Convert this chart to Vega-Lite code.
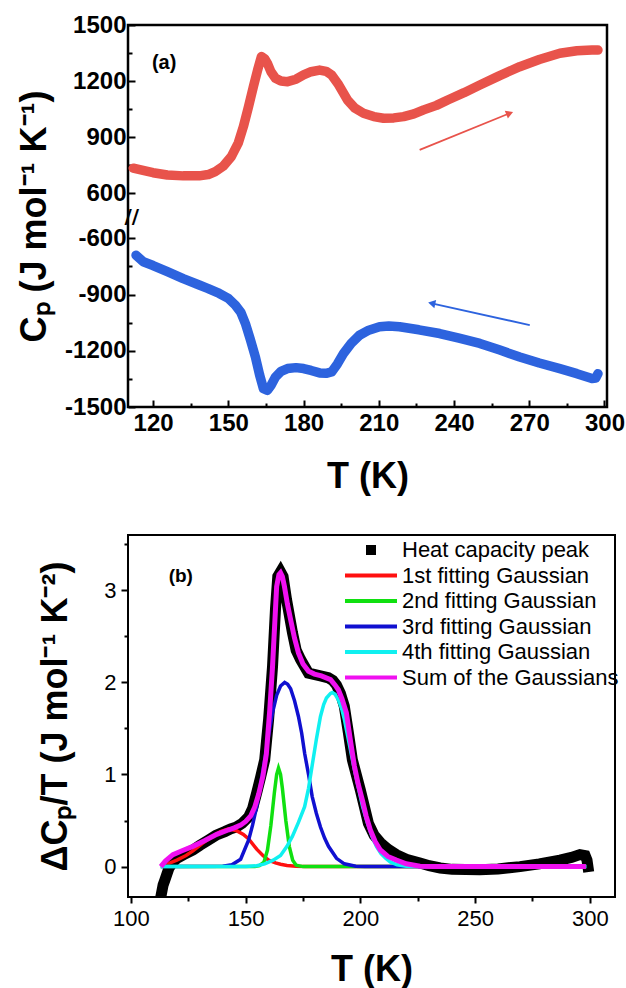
{
  "$schema": "https://vega.github.io/schema/vega-lite/v6.json",
  "autosize": "none",
  "padding": {"left": 128, "top": 25, "right": 498, "bottom": 963},
  "background": "white",
  "spacing": 128,
  "bounds": "flush",
  "resolve": {"scale": {"color": "independent"}, "legend": {"color": "independent"}},
  "config": {
    "font": "Liberation Sans",
    "view": {"stroke": "black", "strokeWidth": 2.5},
    "axis": {"grid": false, "domain": false, "tickColor": "black", "labelColor": "black", "titleColor": "black", "tickWidth": 2, "labelFont": "Liberation Sans", "titleFont": "Liberation Sans", "labelFlush": false, "labelOverlap": false, "tickCount": 100},
    "legend": {"labelFont": "Liberation Sans", "labelColor": "black", "labelLimit": 0}
  },
  "datasets": {
    "a": [
      {"s":"heat","T":112.1,"C":734},{"s":"heat","T":116,"C":722},{"s":"heat","T":120,"C":710},{"s":"heat","T":125.7,"C":698},{"s":"heat","T":132,"C":693},{"s":"heat","T":138.4,"C":693},{"s":"heat","T":142,"C":700},{"s":"heat","T":144.8,"C":716},{"s":"heat","T":148,"C":745},{"s":"heat","T":151.2,"C":796},{"s":"heat","T":154,"C":870},{"s":"heat","T":156,"C":956},{"s":"heat","T":158,"C":1060},{"s":"heat","T":160,"C":1170},{"s":"heat","T":161.7,"C":1260},{"s":"heat","T":163.2,"C":1331},{"s":"heat","T":164.5,"C":1320},{"s":"heat","T":165.6,"C":1295},{"s":"heat","T":167,"C":1250},{"s":"heat","T":168.8,"C":1215},{"s":"heat","T":171,"C":1200},{"s":"heat","T":173.6,"C":1197},{"s":"heat","T":177,"C":1210},{"s":"heat","T":180,"C":1233},{"s":"heat","T":183,"C":1250},{"s":"heat","T":186.4,"C":1259},{"s":"heat","T":189,"C":1252},{"s":"heat","T":191.2,"C":1233},{"s":"heat","T":194,"C":1180},{"s":"heat","T":197.5,"C":1099},{"s":"heat","T":200.5,"C":1055},{"s":"heat","T":203.9,"C":1028},{"s":"heat","T":208,"C":1010},{"s":"heat","T":211.9,"C":1001},{"s":"heat","T":216,"C":1003},{"s":"heat","T":219.9,"C":1010},{"s":"heat","T":224,"C":1025},{"s":"heat","T":227.9,"C":1046},{"s":"heat","T":233,"C":1070},{"s":"heat","T":237.5,"C":1099},{"s":"heat","T":244,"C":1138},{"s":"heat","T":250.3,"C":1179},{"s":"heat","T":258,"C":1228},{"s":"heat","T":266.2,"C":1277},{"s":"heat","T":274,"C":1315},{"s":"heat","T":282.2,"C":1349},{"s":"heat","T":289,"C":1362},{"s":"heat","T":295,"C":1366},{"s":"heat","T":297.4,"C":1366},
      {"s":"cool","T":113.2,"C":-690},{"s":"cool","T":116.1,"C":-725},{"s":"cool","T":120,"C":-745},{"s":"cool","T":125.7,"C":-778},{"s":"cool","T":132,"C":-815},{"s":"cool","T":138.4,"C":-849},{"s":"cool","T":142,"C":-868},{"s":"cool","T":146.4,"C":-894},{"s":"cool","T":150,"C":-920},{"s":"cool","T":152.8,"C":-956},{"s":"cool","T":155,"C":-995},{"s":"cool","T":156.8,"C":-1054},{"s":"cool","T":158.8,"C":-1140},{"s":"cool","T":160.8,"C":-1233},{"s":"cool","T":162.5,"C":-1330},{"s":"cool","T":164,"C":-1402},{"s":"cool","T":165.6,"C":-1411},{"s":"cool","T":167,"C":-1385},{"s":"cool","T":168.8,"C":-1340},{"s":"cool","T":171,"C":-1310},{"s":"cool","T":173.6,"C":-1295},{"s":"cool","T":177,"C":-1290},{"s":"cool","T":180,"C":-1295},{"s":"cool","T":183,"C":-1305},{"s":"cool","T":186.4,"C":-1318},{"s":"cool","T":189,"C":-1320},{"s":"cool","T":191.2,"C":-1313},{"s":"cool","T":193.5,"C":-1270},{"s":"cool","T":195.9,"C":-1215},{"s":"cool","T":199,"C":-1160},{"s":"cool","T":202.3,"C":-1117},{"s":"cool","T":206,"C":-1090},{"s":"cool","T":210.3,"C":-1072},{"s":"cool","T":214,"C":-1068},{"s":"cool","T":218.3,"C":-1072},{"s":"cool","T":226,"C":-1088},{"s":"cool","T":234.3,"C":-1108},{"s":"cool","T":242,"C":-1133},{"s":"cool","T":250.3,"C":-1161},{"s":"cool","T":258,"C":-1195},{"s":"cool","T":266.2,"C":-1233},{"s":"cool","T":274,"C":-1265},{"s":"cool","T":282.2,"C":-1295},{"s":"cool","T":289,"C":-1322},{"s":"cool","T":295,"C":-1348},{"s":"cool","T":296.5,"C":-1345},{"s":"cool","T":297.4,"C":-1322}
    ],
    "arrows": [
      {"s":"heat","T":226.3,"C":832,"T2":262.2,"C2":1028},
      {"s":"cool","T":270.2,"C":-1063,"T2":231.1,"C2":-947}
    ],
    "alab": [
      {"T":124.4,"C":1297,"t":"(a)"}
    ],
    "brk": [
      {"T":111.5,"C":0,"t":"//"}
    ],
    "b": [
      {"s":"Heat capacity peak","T":112.3,"v":-0.6},{"s":"Heat capacity peak","T":113,"v":-0.33},{"s":"Heat capacity peak","T":114,"v":-0.2},{"s":"Heat capacity peak","T":114.8,"v":-0.145},{"s":"Heat capacity peak","T":116.5,"v":-0.02},{"s":"Heat capacity peak","T":118,"v":0.04},{"s":"Heat capacity peak","T":120,"v":0.09},{"s":"Heat capacity peak","T":123,"v":0.13},{"s":"Heat capacity peak","T":127,"v":0.18},{"s":"Heat capacity peak","T":130,"v":0.23},{"s":"Heat capacity peak","T":133.9,"v":0.29},{"s":"Heat capacity peak","T":137,"v":0.34},{"s":"Heat capacity peak","T":140.9,"v":0.38},{"s":"Heat capacity peak","T":143.5,"v":0.41},{"s":"Heat capacity peak","T":146,"v":0.43},{"s":"Heat capacity peak","T":148.5,"v":0.47},{"s":"Heat capacity peak","T":151.3,"v":0.54},{"s":"Heat capacity peak","T":153,"v":0.63},{"s":"Heat capacity peak","T":154.8,"v":0.8},{"s":"Heat capacity peak","T":156.5,"v":0.97},{"s":"Heat capacity peak","T":158.3,"v":1.16},{"s":"Heat capacity peak","T":160,"v":1.6},{"s":"Heat capacity peak","T":161.7,"v":2.17},{"s":"Heat capacity peak","T":163,"v":2.8},{"s":"Heat capacity peak","T":164,"v":3.15},{"s":"Heat capacity peak","T":165.2,"v":3.2},{"s":"Heat capacity peak","T":166.3,"v":3.15},{"s":"Heat capacity peak","T":167.8,"v":2.9},{"s":"Heat capacity peak","T":170.4,"v":2.54},{"s":"Heat capacity peak","T":172,"v":2.35},{"s":"Heat capacity peak","T":173.9,"v":2.25},{"s":"Heat capacity peak","T":177.4,"v":2.1},{"s":"Heat capacity peak","T":182.6,"v":2.07},{"s":"Heat capacity peak","T":186,"v":2.05},{"s":"Heat capacity peak","T":188,"v":2.02},{"s":"Heat capacity peak","T":189.6,"v":1.97},{"s":"Heat capacity peak","T":191.3,"v":1.88},{"s":"Heat capacity peak","T":193,"v":1.74},{"s":"Heat capacity peak","T":194.8,"v":1.45},{"s":"Heat capacity peak","T":196.5,"v":1.16},{"s":"Heat capacity peak","T":200,"v":0.83},{"s":"Heat capacity peak","T":203.5,"v":0.47},{"s":"Heat capacity peak","T":206,"v":0.34},{"s":"Heat capacity peak","T":208.7,"v":0.26},{"s":"Heat capacity peak","T":212,"v":0.19},{"s":"Heat capacity peak","T":215.7,"v":0.13},{"s":"Heat capacity peak","T":220,"v":0.08},{"s":"Heat capacity peak","T":226,"v":0.04},{"s":"Heat capacity peak","T":230,"v":0.01},{"s":"Heat capacity peak","T":234.8,"v":-0.015},{"s":"Heat capacity peak","T":240,"v":-0.03},{"s":"Heat capacity peak","T":252,"v":-0.035},{"s":"Heat capacity peak","T":260,"v":-0.025},{"s":"Heat capacity peak","T":269.6,"v":0},{"s":"Heat capacity peak","T":278,"v":0.03},{"s":"Heat capacity peak","T":287,"v":0.07},{"s":"Heat capacity peak","T":292,"v":0.1},{"s":"Heat capacity peak","T":295.7,"v":0.13},{"s":"Heat capacity peak","T":298,"v":0.12},{"s":"Heat capacity peak","T":298.8,"v":0.07},{"s":"Heat capacity peak","T":299.2,"v":0.0},
      {"s":"1st fitting Gaussian","T":113,"v":0.01},{"s":"1st fitting Gaussian","T":116,"v":0.03},{"s":"1st fitting Gaussian","T":120,"v":0.07},{"s":"1st fitting Gaussian","T":124,"v":0.12},{"s":"1st fitting Gaussian","T":127,"v":0.17},{"s":"1st fitting Gaussian","T":131,"v":0.25},{"s":"1st fitting Gaussian","T":135,"v":0.32},{"s":"1st fitting Gaussian","T":139,"v":0.38},{"s":"1st fitting Gaussian","T":142.6,"v":0.41},{"s":"1st fitting Gaussian","T":146,"v":0.39},{"s":"1st fitting Gaussian","T":149,"v":0.35},{"s":"1st fitting Gaussian","T":151.3,"v":0.3},{"s":"1st fitting Gaussian","T":154.8,"v":0.19},{"s":"1st fitting Gaussian","T":157.5,"v":0.12},{"s":"1st fitting Gaussian","T":160,"v":0.07},{"s":"1st fitting Gaussian","T":163,"v":0.04},{"s":"1st fitting Gaussian","T":165.2,"v":0.025},{"s":"1st fitting Gaussian","T":168,"v":0.012},{"s":"1st fitting Gaussian","T":172,"v":0.004},{"s":"1st fitting Gaussian","T":176,"v":0},{"s":"1st fitting Gaussian","T":298.5,"v":0},
      {"s":"2nd fitting Gaussian","T":113,"v":0},{"s":"2nd fitting Gaussian","T":154,"v":0},{"s":"2nd fitting Gaussian","T":156,"v":0.01},{"s":"2nd fitting Gaussian","T":158,"v":0.05},{"s":"2nd fitting Gaussian","T":159.5,"v":0.18},{"s":"2nd fitting Gaussian","T":161,"v":0.45},{"s":"2nd fitting Gaussian","T":162.5,"v":0.8},{"s":"2nd fitting Gaussian","T":163.5,"v":1.0},{"s":"2nd fitting Gaussian","T":164.3,"v":1.07},{"s":"2nd fitting Gaussian","T":165.2,"v":1.0},{"s":"2nd fitting Gaussian","T":166,"v":0.85},{"s":"2nd fitting Gaussian","T":167.5,"v":0.5},{"s":"2nd fitting Gaussian","T":169,"v":0.22},{"s":"2nd fitting Gaussian","T":170.5,"v":0.07},{"s":"2nd fitting Gaussian","T":172,"v":0.015},{"s":"2nd fitting Gaussian","T":175,"v":0},{"s":"2nd fitting Gaussian","T":298.5,"v":0},
      {"s":"3rd fitting Gaussian","T":113,"v":0},{"s":"3rd fitting Gaussian","T":140,"v":0.005},{"s":"3rd fitting Gaussian","T":144,"v":0.02},{"s":"3rd fitting Gaussian","T":147.8,"v":0.08},{"s":"3rd fitting Gaussian","T":151.3,"v":0.29},{"s":"3rd fitting Gaussian","T":153,"v":0.45},{"s":"3rd fitting Gaussian","T":154.8,"v":0.65},{"s":"3rd fitting Gaussian","T":156.5,"v":0.9},{"s":"3rd fitting Gaussian","T":158.3,"v":1.16},{"s":"3rd fitting Gaussian","T":160,"v":1.42},{"s":"3rd fitting Gaussian","T":161.7,"v":1.67},{"s":"3rd fitting Gaussian","T":163.5,"v":1.86},{"s":"3rd fitting Gaussian","T":165.2,"v":1.96},{"s":"3rd fitting Gaussian","T":167,"v":2.0},{"s":"3rd fitting Gaussian","T":168.3,"v":1.98},{"s":"3rd fitting Gaussian","T":169.6,"v":1.93},{"s":"3rd fitting Gaussian","T":171.3,"v":1.8},{"s":"3rd fitting Gaussian","T":173,"v":1.63},{"s":"3rd fitting Gaussian","T":174.4,"v":1.45},{"s":"3rd fitting Gaussian","T":175.7,"v":1.23},{"s":"3rd fitting Gaussian","T":177.4,"v":1.0},{"s":"3rd fitting Gaussian","T":179,"v":0.76},{"s":"3rd fitting Gaussian","T":180.8,"v":0.58},{"s":"3rd fitting Gaussian","T":182.6,"v":0.43},{"s":"3rd fitting Gaussian","T":184.4,"v":0.31},{"s":"3rd fitting Gaussian","T":186.1,"v":0.22},{"s":"3rd fitting Gaussian","T":189.6,"v":0.09},{"s":"3rd fitting Gaussian","T":193,"v":0.03},{"s":"3rd fitting Gaussian","T":198,"v":0.005},{"s":"3rd fitting Gaussian","T":202,"v":0},{"s":"3rd fitting Gaussian","T":298.5,"v":0},
      {"s":"4th fitting Gaussian","T":113,"v":0},{"s":"4th fitting Gaussian","T":150,"v":0},{"s":"4th fitting Gaussian","T":154.8,"v":0.01},{"s":"4th fitting Gaussian","T":158.3,"v":0.03},{"s":"4th fitting Gaussian","T":162,"v":0.07},{"s":"4th fitting Gaussian","T":165.2,"v":0.12},{"s":"4th fitting Gaussian","T":168,"v":0.22},{"s":"4th fitting Gaussian","T":170.4,"v":0.33},{"s":"4th fitting Gaussian","T":173,"v":0.48},{"s":"4th fitting Gaussian","T":175.7,"v":0.65},{"s":"4th fitting Gaussian","T":177.4,"v":0.85},{"s":"4th fitting Gaussian","T":179,"v":1.1},{"s":"4th fitting Gaussian","T":180.8,"v":1.38},{"s":"4th fitting Gaussian","T":182.6,"v":1.63},{"s":"4th fitting Gaussian","T":184,"v":1.76},{"s":"4th fitting Gaussian","T":185.2,"v":1.83},{"s":"4th fitting Gaussian","T":187,"v":1.88},{"s":"4th fitting Gaussian","T":187.8,"v":1.89},{"s":"4th fitting Gaussian","T":189,"v":1.87},{"s":"4th fitting Gaussian","T":190.4,"v":1.81},{"s":"4th fitting Gaussian","T":192,"v":1.7},{"s":"4th fitting Gaussian","T":193,"v":1.6},{"s":"4th fitting Gaussian","T":195,"v":1.35},{"s":"4th fitting Gaussian","T":197,"v":1.1},{"s":"4th fitting Gaussian","T":199,"v":0.87},{"s":"4th fitting Gaussian","T":201,"v":0.65},{"s":"4th fitting Gaussian","T":203,"v":0.48},{"s":"4th fitting Gaussian","T":205,"v":0.33},{"s":"4th fitting Gaussian","T":207,"v":0.22},{"s":"4th fitting Gaussian","T":209,"v":0.14},{"s":"4th fitting Gaussian","T":211,"v":0.09},{"s":"4th fitting Gaussian","T":213,"v":0.05},{"s":"4th fitting Gaussian","T":216,"v":0.02},{"s":"4th fitting Gaussian","T":220,"v":0.005},{"s":"4th fitting Gaussian","T":225,"v":0},{"s":"4th fitting Gaussian","T":298.5,"v":0},
      {"s":"Sum of the Gaussians","T":113,"v":0.0},{"s":"Sum of the Gaussians","T":115,"v":0.06},{"s":"Sum of the Gaussians","T":118.3,"v":0.13},{"s":"Sum of the Gaussians","T":122,"v":0.17},{"s":"Sum of the Gaussians","T":127,"v":0.22},{"s":"Sum of the Gaussians","T":132,"v":0.28},{"s":"Sum of the Gaussians","T":137.4,"v":0.35},{"s":"Sum of the Gaussians","T":142.6,"v":0.4},{"s":"Sum of the Gaussians","T":145,"v":0.42},{"s":"Sum of the Gaussians","T":147.8,"v":0.45},{"s":"Sum of the Gaussians","T":150,"v":0.49},{"s":"Sum of the Gaussians","T":152.2,"v":0.55},{"s":"Sum of the Gaussians","T":154,"v":0.65},{"s":"Sum of the Gaussians","T":155.7,"v":0.79},{"s":"Sum of the Gaussians","T":157.5,"v":0.98},{"s":"Sum of the Gaussians","T":159,"v":1.22},{"s":"Sum of the Gaussians","T":160.5,"v":1.7},{"s":"Sum of the Gaussians","T":161.7,"v":2.17},{"s":"Sum of the Gaussians","T":163.5,"v":3.04},{"s":"Sum of the Gaussians","T":164.5,"v":3.17},{"s":"Sum of the Gaussians","T":165.2,"v":3.19},{"s":"Sum of the Gaussians","T":166,"v":3.15},{"s":"Sum of the Gaussians","T":166.9,"v":3.04},{"s":"Sum of the Gaussians","T":168.2,"v":2.85},{"s":"Sum of the Gaussians","T":169.6,"v":2.68},{"s":"Sum of the Gaussians","T":171.3,"v":2.48},{"s":"Sum of the Gaussians","T":173,"v":2.32},{"s":"Sum of the Gaussians","T":175,"v":2.2},{"s":"Sum of the Gaussians","T":177.4,"v":2.12},{"s":"Sum of the Gaussians","T":180,"v":2.09},{"s":"Sum of the Gaussians","T":183,"v":2.07},{"s":"Sum of the Gaussians","T":187,"v":2.03},{"s":"Sum of the Gaussians","T":189,"v":1.97},{"s":"Sum of the Gaussians","T":190.4,"v":1.92},{"s":"Sum of the Gaussians","T":192,"v":1.82},{"s":"Sum of the Gaussians","T":193.9,"v":1.67},{"s":"Sum of the Gaussians","T":195.6,"v":1.38},{"s":"Sum of the Gaussians","T":197.4,"v":1.09},{"s":"Sum of the Gaussians","T":199,"v":0.9},{"s":"Sum of the Gaussians","T":200.9,"v":0.72},{"s":"Sum of the Gaussians","T":202.5,"v":0.55},{"s":"Sum of the Gaussians","T":204.3,"v":0.4},{"s":"Sum of the Gaussians","T":206.5,"v":0.27},{"s":"Sum of the Gaussians","T":208.7,"v":0.18},{"s":"Sum of the Gaussians","T":212,"v":0.11},{"s":"Sum of the Gaussians","T":215.7,"v":0.07},{"s":"Sum of the Gaussians","T":220,"v":0.03},{"s":"Sum of the Gaussians","T":226,"v":0.005},{"s":"Sum of the Gaussians","T":232,"v":0},{"s":"Sum of the Gaussians","T":298.3,"v":0}
    ],
    "blab": [
      {"T":121.7,"v":3.15,"t":"(b)"}
    ]
  },
  "vconcat": [
    {
      "width": 479,
      "height": 382,
      "layer": [
        {
          "data": {"name": "a"},
          "mark": {"type": "line", "strokeWidth": 9.5, "strokeCap": "round", "strokeJoin": "round"},
          "encoding": {
            "x": {"field": "T", "type": "quantitative",
              "scale": {"domain": [110, 301], "nice": false, "zero": false},
              "axis": {"values": [120,135,150,165,180,195,210,225,240,255,270,285,300],
                "labelExpr": "datum.value % 30 === 0 ? datum.label : ''",
                "tickSize": {"condition": {"test": "datum.value % 30 === 0", "value": -7}, "value": -4},
                "labelFontSize": 24, "labelFontWeight": "bold", "labelPadding": 11,
                "title": "T (K)", "titleFontSize": 36, "titleFontWeight": "bold",
                "titleBaseline": "alphabetic", "titleY": 80}},
            "y": {"field": "C", "type": "quantitative",
              "scale": {"domain": [-1500, -486, 473, 1500], "range": [382, 192, 192, 0], "nice": false, "zero": false},
              "axis": {"values": [-1500,-1350,-1200,-1050,-900,-750,-600,600,750,900,1050,1200,1350,1500],
                "labelExpr": "datum.value % 300 === 0 ? '' + datum.value : ''",
                "tickSize": {"condition": {"test": "datum.value % 300 === 0", "value": -7}, "value": -4},
                "labelFontSize": 24, "labelFontWeight": "bold", "labelPadding": 9,
                "title": "Cₚ (J mol⁻¹ K⁻¹)", "titleFontSize": 36, "titleFontWeight": "bold",
                "titleBaseline": "alphabetic", "titleX": -83}},
            "color": {"field": "s", "type": "nominal", "scale": {"domain": ["heat", "cool"], "range": ["#e8534b", "#2d63de"]}, "legend": null}
          }
        },
        {
          "data": {"name": "arrows"},
          "mark": {"type": "rule", "strokeWidth": 1.8},
          "encoding": {
            "x": {"field": "T", "type": "quantitative"},
            "y": {"field": "C", "type": "quantitative"},
            "x2": {"field": "T2"},
            "y2": {"field": "C2"},
            "color": {"field": "s", "type": "nominal", "legend": null}
          }
        },
        {
          "data": {"name": "arrows"},
          "transform": [{"filter": "datum.s === 'heat'"}],
          "mark": {"type": "point", "shape": "triangle-right", "angle": -22, "filled": true, "size": 70, "opacity": 1},
          "encoding": {
            "x": {"field": "T2", "type": "quantitative"},
            "y": {"field": "C2", "type": "quantitative"},
            "color": {"field": "s", "type": "nominal", "legend": null}
          }
        },
        {
          "data": {"name": "arrows"},
          "transform": [{"filter": "datum.s === 'cool'"}],
          "mark": {"type": "point", "shape": "triangle-left", "angle": 12.5, "filled": true, "size": 70, "opacity": 1},
          "encoding": {
            "x": {"field": "T2", "type": "quantitative"},
            "y": {"field": "C2", "type": "quantitative"},
            "color": {"field": "s", "type": "nominal", "legend": null}
          }
        },
        {
          "data": {"name": "alab"},
          "mark": {"type": "text", "fontSize": 20, "fontWeight": "bold", "color": "black", "align": "center", "baseline": "middle"},
          "encoding": {
            "x": {"field": "T", "type": "quantitative"},
            "y": {"field": "C", "type": "quantitative"},
            "text": {"field": "t"}
          }
        },
        {
          "data": {"name": "brk"},
          "mark": {"type": "text", "fontSize": 20, "fontWeight": "bold", "color": "black", "align": "center", "baseline": "middle", "font": "DejaVu Sans"},
          "encoding": {
            "x": {"field": "T", "type": "quantitative"},
            "y": {"field": "C", "type": "quantitative"},
            "text": {"field": "t"}
          }
        }
      ]
    },
    {
      "width": 487,
      "height": 362,
      "view": {"stroke": "black", "strokeWidth": 2},
      "layer": [
        {
          "data": {"name": "b"},
          "transform": [{"filter": "datum.s === 'Heat capacity peak'"}],
          "mark": {"type": "line", "strokeWidth": 11, "strokeCap": "square", "strokeJoin": "miter", "clip": true},
          "encoding": {
            "x": {"field": "T", "type": "quantitative",
              "scale": {"domain": [98.7, 311], "nice": false, "zero": false},
              "axis": {"values": [100,125,150,175,200,225,250,275,300],
                "labelExpr": "datum.value % 50 === 0 ? datum.label : ''",
                "tickSize": {"condition": {"test": "datum.value % 50 === 0", "value": 6}, "value": 4},
                "labelFontSize": 22, "labelPadding": 5,
                "title": "T (K)", "titleFontSize": 36, "titleFontWeight": "bold",
                "titleBaseline": "alphabetic", "titleY": 83}},
            "y": {"field": "v", "type": "quantitative",
              "scale": {"domain": [-0.33, 3.6], "nice": false, "zero": false},
              "axis": {"values": [0,0.5,1,1.5,2,2.5,3,3.5],
                "labelExpr": "datum.value % 1 === 0 ? '' + datum.value : ''",
                "tickSize": {"condition": {"test": "datum.value % 1 === 0", "value": 7}, "value": 4},
                "labelFontSize": 22, "labelPadding": 5,
                "title": "ΔCₚ/T (J mol⁻¹ K⁻²)", "titleFontSize": 36, "titleFontWeight": "bold",
                "titleBaseline": "alphabetic", "titleX": -62}},
            "color": {"field": "s", "type": "nominal",
              "scale": {"domain": ["Heat capacity peak", "1st fitting Gaussian", "2nd fitting Gaussian", "3rd fitting Gaussian", "4th fitting Gaussian", "Sum of the Gaussians"],
                "range": ["#000000", "#ff1010", "#10e010", "#1010d0", "#10f0f0", "#f010f0"]},
              "legend": {"title": null, "orient": "none", "legendX": 232, "legendY": 4, "padding": 0,
                "labelFontSize": 22, "rowPadding": 3.5, "symbolSize": 100, "symbolType": "M-5.2,0H5.2",
                "symbolStrokeWidth": 4, "labelOffset": 20, "labelLimit": 0,
                "encode": {"symbols": {"update": {
                  "shape": {"signal": "datum.value === 'Heat capacity peak' ? 'square' : 'M-5.2,0H5.2'"},
                  "fill": {"signal": "datum.value === 'Heat capacity peak' ? '#000000' : 'transparent'"},
                  "strokeWidth": {"signal": "datum.value === 'Heat capacity peak' ? 0 : 4"}
                }}}}
            }
          }
        },
        {
          "data": {"name": "b"},
          "transform": [{"filter": "datum.s !== 'Heat capacity peak' && datum.s !== 'Sum of the Gaussians'"}],
          "mark": {"type": "line", "strokeWidth": 3.5, "clip": true},
          "encoding": {
            "x": {"field": "T", "type": "quantitative"},
            "y": {"field": "v", "type": "quantitative"},
            "color": {"field": "s", "type": "nominal"}
          }
        },
        {
          "data": {"name": "b"},
          "transform": [{"filter": "datum.s === 'Sum of the Gaussians'"}],
          "mark": {"type": "line", "strokeWidth": 5, "clip": true},
          "encoding": {
            "x": {"field": "T", "type": "quantitative"},
            "y": {"field": "v", "type": "quantitative"},
            "color": {"field": "s", "type": "nominal"}
          }
        },
        {
          "data": {"name": "blab"},
          "mark": {"type": "text", "fontSize": 19, "fontWeight": "bold", "color": "black", "align": "center", "baseline": "middle"},
          "encoding": {
            "x": {"field": "T", "type": "quantitative"},
            "y": {"field": "v", "type": "quantitative"},
            "text": {"field": "t"}
          }
        }
      ]
    }
  ]
}
